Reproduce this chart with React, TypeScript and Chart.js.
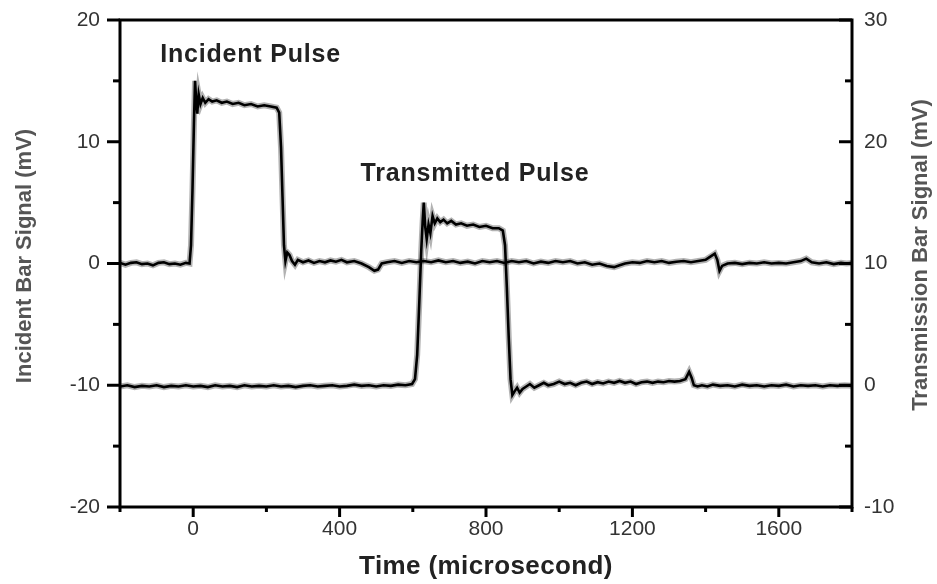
import React, { useEffect, useRef } from "react";
import { Chart, registerables } from "chart.js";

Chart.register(...registerables);

// ---- data ----
const incidentTime = [
  -200, -185, -170, -155, -140, -125, -110, -95, -80, -65, -50, -35, -20, -10, -6, -2, 2, 5, 8, 11, 15, 20, 26, 33, 42,
  52, 64, 78, 92, 108, 124, 140, 158, 176, 194, 212, 228, 235, 240, 244, 248, 252, 257, 263, 270, 278, 286, 300, 315,
  330, 345, 360, 375, 390, 405, 420, 440, 460, 480, 495, 505, 515, 530, 550, 570, 590, 610, 630, 650, 670, 690, 710,
  730, 750, 770, 790, 810, 830, 850, 870, 890, 910, 930, 950, 970, 990, 1010, 1030, 1050, 1070, 1090, 1110, 1130,
  1150, 1165, 1180, 1200, 1220, 1240, 1260, 1280, 1300, 1320, 1340, 1360, 1380, 1400, 1415, 1425, 1432, 1438, 1445,
  1460, 1480, 1500, 1520, 1540, 1560, 1580, 1600, 1620, 1640, 1660, 1675, 1690, 1710, 1730, 1750, 1770, 1785, 1800,
];
const incidentSignal = [
  0.05, -0.1, 0.05, 0.1, -0.05, 0.0, -0.15, 0.05, 0.1, -0.05, 0.0, -0.1, 0.05, 0.0, 1.5, 6.0, 11.5, 15.0, 13.5, 12.3,
  13.9, 13.1, 13.6, 13.2, 13.5, 13.3, 13.4, 13.2, 13.3, 13.1, 13.2, 13.0, 13.1, 12.9, 13.0, 12.9, 12.8, 12.4, 9.5,
  5.5, 1.5, 0.2, 0.9, 0.7, 0.2, -0.1, 0.3, 0.1, 0.25, 0.05, 0.2, 0.1, 0.25, 0.15, 0.3, 0.1, 0.2, 0.0, -0.3, -0.6,
  -0.5, 0.0, 0.1, 0.2, 0.05, 0.2, 0.1, 0.2, 0.1, 0.25, 0.1, 0.2, 0.05, 0.15, 0.0, 0.2, 0.1, 0.2, 0.05, 0.2, 0.1, 0.2,
  0.0, 0.15, 0.05, 0.2, 0.1, 0.2, 0.0, 0.1, -0.1, 0.0, -0.2, -0.3, -0.15, 0.0, 0.1, 0.05, 0.2, 0.1, 0.2, 0.05, 0.15,
  0.2, 0.1, 0.2, 0.3, 0.6, 0.8, 0.3, -0.6, -0.2, 0.0, 0.05, -0.05, 0.05, 0.0, 0.1, 0.0, 0.05, 0.0, 0.1, 0.2, 0.4,
  0.1, 0.0, 0.1, -0.05, 0.05, 0.0, 0.05,
];

const transmittedTime = [
  -200, -180, -160, -140, -120, -100, -80, -60, -40, -20, 0, 20, 40, 60, 80, 100, 120, 140, 160, 180, 200, 220, 240,
  260, 280, 300, 320, 340, 360, 380, 400, 420, 440, 460, 480, 500, 520, 540, 560, 580, 598, 606, 612, 618, 623, 627,
  630, 634, 638, 643, 648, 654, 660, 667, 675, 684, 694, 705, 718, 732, 748, 765, 782, 800, 818, 835, 846, 852, 857,
  862, 867, 872, 878, 885, 892, 900, 910, 920, 932, 945, 958, 970, 985, 1000, 1015, 1030, 1045, 1060, 1075, 1090,
  1105, 1120, 1135, 1150, 1165, 1180, 1195, 1210, 1225, 1240, 1255, 1270, 1285, 1300, 1315, 1330, 1345, 1355, 1362,
  1368, 1378, 1390, 1405, 1420, 1440, 1460, 1480, 1500, 1520, 1540, 1560, 1580, 1600, 1620, 1640, 1660, 1680, 1700,
  1720, 1740, 1760, 1780, 1800,
];
const transmittedSignal = [
  -0.1, 0.0, -0.15, -0.05, -0.1, 0.0, -0.15, -0.05, -0.1, 0.0, -0.1, -0.05, -0.15, 0.0, -0.1, -0.05, -0.15, 0.0, -0.1,
  -0.05, -0.1, 0.0, -0.1, -0.05, -0.15, -0.05, 0.0, -0.1, -0.05, 0.0, -0.1, -0.05, 0.05, -0.05, 0.0, -0.1, 0.0, -0.05,
  0.05, 0.0, 0.1, 0.5, 2.5, 7.0, 11.0, 13.5, 15.0, 13.0, 12.0, 13.2, 12.5, 13.9, 13.3, 13.7, 13.4, 13.6, 13.3, 13.5,
  13.2, 13.3, 13.1, 13.2, 13.0, 13.1, 12.9, 12.9, 12.7, 11.5, 8.0, 4.0, 0.5, -0.8, -0.5, -0.2, -0.6, -0.3, -0.1, 0.1,
  -0.2, 0.0, 0.2, 0.0, 0.1, 0.3, 0.1, 0.2, 0.0, 0.2, 0.3, 0.1, 0.25, 0.15, 0.3, 0.2, 0.35, 0.2, 0.3, 0.1, 0.25, 0.3,
  0.2, 0.3, 0.25, 0.35, 0.3, 0.35, 0.5, 1.1, 0.6, 0.0, -0.1, 0.0, -0.1, 0.05, -0.05, 0.0, -0.1, 0.05, -0.05, 0.0, -0.1,
  0.0, -0.05, 0.05, -0.1, 0.0, -0.05, 0.0, -0.1, 0.0, -0.05, 0.0, -0.05,
];

const xMajorTicks = [0, 400, 800, 1200, 1600];
const xMinorTicks = [-200, 200, 600, 1000, 1400, 1800];
const leftMajorTicks = [-20, -10, 0, 10, 20];
const leftMinorTicks = [-15, -5, 5, 15];
const rightMajorTicks = [-10, 0, 10, 20, 30];
const rightMinorTicks = [-5, 5, 15, 25];

const xTitle = "Time (microsecond)";
const leftTitle = "Incident Bar Signal (mV)";
const rightTitle = "Transmission Bar Signal (mV)";
const annotationTexts = ["Incident Pulse", "Transmitted Pulse"];
const annotationX = [-90, 457];
const annotationY = [17.1, 7.35];

const FONT = '"Liberation Sans", Arial, sans-serif';

const axesPlugin = {
  id: "originAxes",
  afterDatasetsDraw(chart: any) {
    const { ctx, chartArea } = chart;
    const { left, right, top, bottom } = chartArea;
    const x = chart.scales.x;
    const y = chart.scales.y;
    const y2 = chart.scales.y2;
    ctx.save();
    ctx.strokeStyle = "#000";
    ctx.lineWidth = 3;
    ctx.lineJoin = "miter";
    ctx.strokeRect(left, top, right - left, bottom - top);

    const line = (x1: number, y1: number, x2: number, y2v: number) => {
      ctx.beginPath();
      ctx.moveTo(x1, y1);
      ctx.lineTo(x2, y2v);
      ctx.stroke();
    };
    // left ticks (outward)
    leftMajorTicks.forEach((v) => {
      const p = y.getPixelForValue(v);
      line(left - 13, p, left, p);
    });
    leftMinorTicks.forEach((v) => {
      const p = y.getPixelForValue(v);
      line(left - 7, p, left, p);
    });
    // right ticks (inward)
    rightMajorTicks.forEach((v) => {
      const p = y2.getPixelForValue(v);
      line(right - 13, p, right, p);
    });
    rightMinorTicks.forEach((v) => {
      const p = y2.getPixelForValue(v);
      line(right - 7, p, right, p);
    });
    // bottom ticks (outward)
    xMajorTicks.forEach((v) => {
      const p = x.getPixelForValue(v);
      line(p, bottom, p, bottom + 10);
    });
    xMinorTicks.forEach((v) => {
      const p = x.getPixelForValue(v);
      line(p, bottom, p, bottom + 5);
    });

    // tick labels
    ctx.fillStyle = "#333";
    ctx.font = `21px ${FONT}`;
    ctx.textBaseline = "middle";
    ctx.textAlign = "right";
    leftMajorTicks.forEach((v) => ctx.fillText(String(v), left - 20, y.getPixelForValue(v)));
    ctx.textAlign = "left";
    rightMajorTicks.forEach((v) => ctx.fillText(String(v), right + 12, y2.getPixelForValue(v)));
    ctx.textAlign = "center";
    xMajorTicks.forEach((v) => ctx.fillText(String(v), x.getPixelForValue(v), bottom + 22));

    // x title
    ctx.fillStyle = "#222";
    ctx.font = `bold 26px ${FONT}`;
    ctx.textAlign = "center";
    (ctx as any).letterSpacing = "0.4px";
    ctx.fillText(xTitle, (left + right) / 2, 567);

    // y titles
    ctx.fillStyle = "#555";
    ctx.font = `bold 22px ${FONT}`;
    (ctx as any).letterSpacing = "0px";
    ctx.save();
    ctx.translate(25, 256);
    ctx.rotate(-Math.PI / 2);
    ctx.fillText(leftTitle, 0, 0);
    ctx.restore();
    ctx.save();
    ctx.translate(921, 255);
    ctx.rotate(-Math.PI / 2);
    ctx.fillText(rightTitle, 0, 0);
    ctx.restore();

    // annotations
    ctx.fillStyle = "#222";
    ctx.font = `bold 25px ${FONT}`;
    (ctx as any).letterSpacing = "0.8px";
    ctx.textAlign = "left";
    annotationTexts.forEach((t, i) => {
      ctx.fillText(t, x.getPixelForValue(annotationX[i]), y.getPixelForValue(annotationY[i]));
    });
    (ctx as any).letterSpacing = "0px";
    ctx.restore();
  },
};

export default function App() {
  const ref = useRef<HTMLCanvasElement | null>(null);
  useEffect(() => {
    if (!ref.current) return;
    const incData = incidentTime.map((t, i) => ({ x: t, y: incidentSignal[i] }));
    const trData = transmittedTime.map((t, i) => ({ x: t, y: transmittedSignal[i] }));
    const halo = "rgba(0,0,0,0.3)";
    const chart = new Chart(ref.current, {
      type: "line",
      data: {
        datasets: [
          { data: incData, yAxisID: "y", borderColor: halo, borderWidth: 6, pointRadius: 0, tension: 0 },
          { data: trData, yAxisID: "y2", borderColor: halo, borderWidth: 6, pointRadius: 0, tension: 0 },
          { data: incData, yAxisID: "y", borderColor: "#000", borderWidth: 2.6, pointRadius: 0, tension: 0 },
          { data: trData, yAxisID: "y2", borderColor: "#000", borderWidth: 2.6, pointRadius: 0, tension: 0 },
        ],
      },
      options: {
        responsive: false,
        animation: false,
        layout: { padding: { left: 120, right: 85, top: 20, bottom: 77 } },
        plugins: { legend: { display: false }, tooltip: { enabled: false } },
        scales: {
          x: { type: "linear", min: -200, max: 1800, display: false },
          y: { type: "linear", min: -20, max: 20, display: false },
          y2: { type: "linear", position: "right", min: -10, max: 30, display: false },
        },
      } as any,
      plugins: [axesPlugin],
    });
    return () => chart.destroy();
  }, []);
  return (
    <div style={{ position: "absolute", left: 0, top: 0, width: 937, height: 584, background: "#fff" }}>
      <canvas ref={ref} width={937} height={584} />
    </div>
  );
}
